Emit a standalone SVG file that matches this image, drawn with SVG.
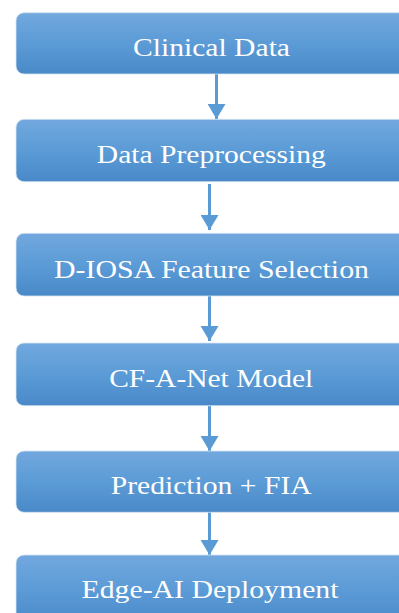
<svg xmlns="http://www.w3.org/2000/svg" width="399" height="613" viewBox="0 0 399 613">
<defs>
<linearGradient id="g" x1="0" y1="0" x2="0" y2="1">
<stop offset="0" stop-color="#72a8de"/>
<stop offset="0.5" stop-color="#5b9bd6"/>
<stop offset="1" stop-color="#4a89c9"/>
</linearGradient>
<marker id="ah" markerUnits="userSpaceOnUse" markerWidth="15" markerHeight="18" refX="15" refY="9" orient="auto" viewBox="0 0 15 18">
<path d="M0,0 L15,9 L0,18 Z" fill="#5b9bd5"/>
</marker>
<style>
.box{fill:url(#g);stroke:#d6e4f3;stroke-width:0.8}
.lbl{font-family:"Liberation Serif","Times New Roman",serif;font-size:26px;fill:#ffffff;text-anchor:middle}
.con{stroke:#5b9bd5;stroke-width:3;fill:none;marker-end:url(#ah)}
</style>
</defs>
<rect width="399" height="613" fill="#ffffff"/>
<g id="connectors">
<line class="con" x1="216.5" y1="74" x2="216.5" y2="119"/>
<line class="con" x1="209.5" y1="184" x2="209.5" y2="230"/>
<line class="con" x1="209.5" y1="296" x2="209.5" y2="341"/>
<line class="con" x1="209.5" y1="406" x2="209.5" y2="451"/>
<line class="con" x1="209.5" y1="512" x2="209.5" y2="555"/>
</g>
<g id="n1"><rect class="box" x="16" y="12.7" width="400" height="61.3" rx="8"/><text class="lbl" x="211.5" y="55.7" textLength="157" lengthAdjust="spacingAndGlyphs">Clinical Data</text></g>
<g id="n2"><rect class="box" x="16" y="119.3" width="400" height="62.4" rx="8"/><text class="lbl" x="211.3" y="163.3" textLength="229" lengthAdjust="spacingAndGlyphs">Data Preprocessing</text></g>
<g id="n3"><rect class="box" x="16" y="233.3" width="400" height="62.7" rx="8"/><text class="lbl" x="211.5" y="278.3" textLength="315" lengthAdjust="spacingAndGlyphs">D-IOSA Feature Selection</text></g>
<g id="n4"><rect class="box" x="16" y="343" width="400" height="62.7" rx="8"/><text class="lbl" x="211.2" y="386.7" textLength="204" lengthAdjust="spacingAndGlyphs">CF-A-Net Model</text></g>
<g id="n5"><rect class="box" x="16" y="451" width="400" height="61.3" rx="8"/><text class="lbl" x="211.2" y="494" textLength="201" lengthAdjust="spacingAndGlyphs">Prediction + FIA</text></g>
<g id="n6"><rect class="box" x="16" y="555" width="400" height="70" rx="8"/><text class="lbl" x="210" y="598.3" textLength="257" lengthAdjust="spacingAndGlyphs">Edge-AI Deployment</text></g>
</svg>
